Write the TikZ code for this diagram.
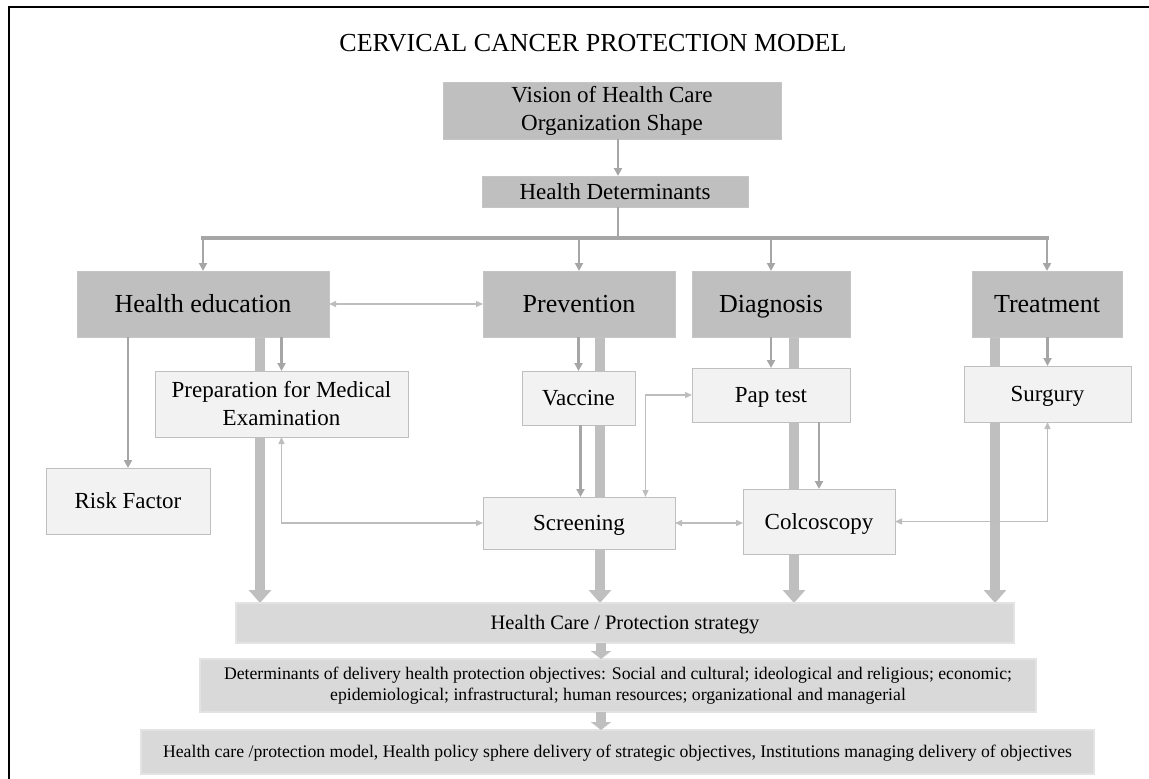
\documentclass[tikz,border=0pt]{standalone}
\usepackage{fontspec}
\setmainfont{Liberation Serif}
\usetikzlibrary{arrows.meta}
\pgfdeclarelayer{bg}
\pgfsetlayers{bg,main}
\definecolor{darkbox}{HTML}{BFBFBF}
\definecolor{lightbox}{HTML}{F2F2F2}
\definecolor{midbox}{HTML}{D9D9D9}
\definecolor{midedge}{HTML}{E3E3E3}
\definecolor{arrowc}{HTML}{A6A6A6}
\definecolor{thickc}{HTML}{BFBFBF}
\definecolor{dblc}{HTML}{BDBDBD}
\tikzset{
  box/.style={anchor=north west, inner sep=0pt, outer sep=0pt, align=center, text=black},
  darkb/.style={box, fill=darkbox, draw=darkbox!90!white, line width=0.8pt},
  lightb/.style={box, fill=lightbox, draw=darkbox, line width=1pt},
  midb/.style={box, fill=midbox, draw=midedge, line width=1.5pt},
  big/.style={font=\fontsize{26}{30}\selectfont},
  med/.style={font=\fontsize{23}{28}\selectfont},
  small/.style={font=\fontsize{17.7}{21}\selectfont},
  bigone/.style={big, text height=17.5pt, text depth=0.5pt},
  medone/.style={med, text height=15.5pt, text depth=0.5pt},
  smallone/.style={small, text height=12pt, text depth=0.5pt},
  arr/.style={draw=arrowc, line width=2.2pt, -{Triangle[length=8pt,width=8pt]}},
  dbl/.style={draw=dblc, line width=1.3pt, {Triangle[length=7pt,width=6pt]}-{Triangle[length=7pt,width=6pt]}},
  thick/.style={draw=thickc, line width=10pt, -{Triangle[length=13pt,width=22pt]}},
  barline/.style={draw=arrowc, line width=4pt},
}
\begin{document}
\begin{tikzpicture}[x=1pt,y=-1pt]
\useasboundingbox (0,0) rectangle (1149,779);
% frame
\draw[line width=2pt, black] (9,779) -- (9,7) -- (1149,7);
% title
\node[font=\fontsize{26}{30}\selectfont] (title) at (593,43) {CERVICAL CANCER PROTECTION MODEL};
% top boxes
\node[darkb, med, minimum width=338pt, minimum height=57pt] (vision) at (443,82) {Vision of Health Care\\Organization Shape};
\node[darkb, medone, minimum width=266pt, minimum height=31pt] (hd) at (482,176) {Health Determinants};
\coordinate (bar) at (618,238);
% main boxes
\node[darkb, bigone, minimum width=252pt, minimum height=66pt] (he) at (77,271) {Health education};
\node[darkb, bigone, minimum width=192pt, minimum height=66pt] (prev) at (483,271) {Prevention};
\node[darkb, bigone, minimum width=158pt, minimum height=66pt] (diag) at (692,271) {Diagnosis};
\node[darkb, bigone, minimum width=150pt, minimum height=66pt] (treat) at (972,271) {Treatment};
% sub boxes
\node[lightb, med, minimum width=253pt, minimum height=66pt] (prep) at (155,371) {Preparation for Medical\\Examination};
\node[lightb, medone, minimum width=164pt, minimum height=66pt] (risk) at (46,468) {Risk Factor};
\node[lightb, medone, minimum width=113pt, minimum height=54pt] (vac) at (522,371) {Vaccine};
\node[lightb, medone, minimum width=192pt, minimum height=52pt] (scr) at (483,497) {Screening};
\node[lightb, medone, minimum width=158pt, minimum height=54pt] (pap) at (692,368) {Pap test};
\node[lightb, medone, minimum width=152pt, minimum height=65pt] (colco) at (743,489) {Colcoscopy};
\node[lightb, medone, minimum width=167pt, minimum height=56pt] (surg) at (964,366) {Surgury};
% bottom boxes
\node[midb, font=\fontsize{20.5}{24}\selectfont, text height=14pt, text depth=0.5pt, minimum width=778pt, minimum height=40pt] (hcs) at (236,603) {Health Care / Protection strategy};
\node[midb, small, minimum width=836pt, minimum height=53pt] (det) at (200,659) {Determinants of delivery health protection objectives: Social and cultural; ideological and religious; economic;\\epidemiological; infrastructural; human resources; organizational and managerial};
\node[midb, smallone, minimum width=953pt, minimum height=44pt] (model) at (141,730) {Health care /protection model, Health policy sphere delivery of strategic objectives, Institutions managing delivery of objectives};
% top connectors
\draw[arr] (vision.south -| bar) -- (hd.north -| bar);
\draw[draw=arrowc, line width=2.2pt] (hd.south -| bar) -- (bar);
\draw[barline] ([xshift=-2pt]bar -| he.north) -- ([xshift=2pt]bar -| treat.north);
\draw[arr] (bar -| he.north) -- (he.north);
\draw[arr] (bar -| prev.north) -- (prev.north);
\draw[arr] (bar -| diag.north) -- (diag.north);
\draw[arr] (bar -| treat.north) -- (treat.north);
% thick arrows to strategy (behind boxes)
\begin{pgfonlayer}{bg}
\draw[thick] ([xshift=57pt]he.south) -- ([xshift=57pt]he.south |- hcs.north);
\draw[thick] ([xshift=21pt]prev.south) -- ([xshift=21pt]prev.south |- hcs.north);
\draw[thick] ([xshift=23pt]diag.south) -- ([xshift=23pt]diag.south |- hcs.north);
\draw[thick] ([xshift=-52pt]treat.south) -- ([xshift=-52pt]treat.south |- hcs.north);
\end{pgfonlayer}
% thin arrows
\draw[arr] (risk.north |- he.south) -- (risk.north);
\draw[arr] (prep.north |- he.south) -- (prep.north);
\draw[arr] (vac.north |- prev.south) -- (vac.north);
\draw[arr] ([xshift=2pt]vac.south) -- ([xshift=2pt]vac.south |- scr.north);
\draw[arr] (pap.north |- diag.south) -- (pap.north);
\draw[arr] (colco.north |- pap.south) -- (colco.north);
\draw[arr] (surg.north |- treat.south) -- (surg.north);
% double arrows
\draw[dbl] (he.east) -- (prev.west);
\draw[dbl] (prep.south) |- (scr.west);
\draw[dbl] ([xshift=66.5pt]scr.north) |- (pap.west);
\draw[dbl] (scr.east) -- (scr.east -| colco.west);
\draw[dbl] (colco.east) -| (surg.south);
% bottom arrows
\draw[thick, -{Triangle[length=8pt,width=20pt]}] ([xshift=-24pt]hcs.south) -- ([xshift=-24pt]hcs.south |- det.north);
\draw[thick, -{Triangle[length=8pt,width=20pt]}] ([xshift=-17pt]det.south) -- ([xshift=-17pt]det.south |- model.north);
\end{tikzpicture}
\end{document}
